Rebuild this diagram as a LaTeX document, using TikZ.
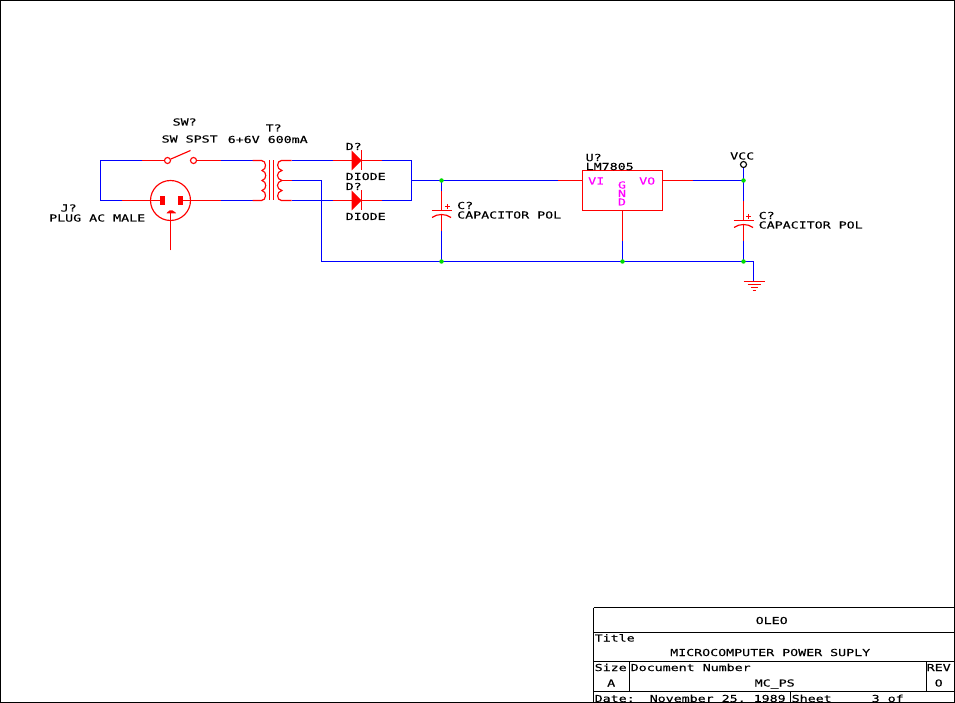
\documentclass[tikz,border=0pt]{standalone}
\usepackage{fontspec}
\newfontfamily\pcb[FakeStretch=1.384,FakeBold=0.15]{DejaVu Sans Mono}
\definecolor{wred}{RGB}{255,0,0}
\definecolor{wblue}{RGB}{0,0,255}
\definecolor{wgreen}{RGB}{0,220,0}
\definecolor{wmag}{RGB}{255,0,255}
\tikzset{
  part/.style={draw=wred,line width=1.15pt},
  wire/.style={draw=wblue,line width=1.15pt},
  frameline/.style={draw=black,line width=1pt},
  lbl/.style={anchor=base west,inner sep=0pt,outer sep=0pt,xshift=-0.8pt,text=black,font=\pcb\fontsize{9.6}{10}\selectfont},
  pinlbl/.style={lbl,text=wmag},
  pinstack/.style={anchor=base,inner sep=0pt,outer sep=0pt,text=wmag,font=\pcb\fontsize{9.6}{10}\selectfont},
  junction/.style={fill=wgreen,draw=none,circle,minimum size=4.5pt,inner sep=0pt},
  pin/.style={draw=wred,fill=white,line width=1.15pt,circle,minimum size=6pt,inner sep=0pt},
  vccpin/.style={pin,draw=black},
  slot/.style={fill=wred,draw=none,minimum width=5pt,minimum height=9pt,inner sep=0pt,outer sep=0pt}
}
\begin{document}
\begin{tikzpicture}[x=1pt,y=-1pt]
\useasboundingbox (0,0) rectangle (955,703);
\clip (0,0) rectangle (955,703);
\fill[white] (0,0) rectangle (955,703);
\draw[frameline] (0.5,0.5) rectangle (954.5,702.5);

\begin{scope}[shift={(0.5,0.5)}]
% points
\coordinate (swLw) at (141,160);
\coordinate (plugLw) at (121,200);
\coordinate (tl) at (100,160);
\coordinate (bl) at (100,200);
\coordinate (priT) at (252,160);
\coordinate (priB) at (252,200);
\coordinate (swRw) at (220,160);
\coordinate (plugRw) at (220,200);
\coordinate (secT) at (291,160);
\coordinate (secM) at (291,180);
\coordinate (secB) at (291,200);
\coordinate (d1a) at (332,160);
\coordinate (d2a) at (332,200);
\coordinate (d1k) at (381,160);
\coordinate (d2k) at (381,200);
\coordinate (dT) at (411,160);
\coordinate (dB) at (411,200);
\coordinate (dM) at (411,180);
\coordinate (tapC) at (321,180);
\coordinate (gndL) at (321,261);
\coordinate (uInW) at (557,180);
\coordinate (uOutW) at (692,180);
\coordinate (uGndW) at (622,241);
\coordinate (c1top) at (441,191);
\coordinate (c1bot) at (441,231);
\coordinate (c2top) at (743,201);
\coordinate (c2bot) at (743,241);
\coordinate (gndCorner) at (753,261);
\coordinate (gndSym) at (753,281);

% mains side
\node[pin] (sw1) at (167,160) {};
\node[pin] (sw2) at (193,160) {};
\coordinate (swTip) at (190,150);
\draw[part] (swLw) -- (sw1);
\draw[part] (sw1) -- (swTip);
\draw[part] (sw2) -- (swRw);
\node[draw=wred,line width=1.15pt,circle,minimum size=40pt,inner sep=0pt] (plug) at (170,200) {};
\node[slot] (slotL) at (161.5,200) {};
\node[slot] (slotR) at (179.5,200) {};
\draw[part] (plugLw) -- (slotL.west);
\draw[part] (slotR.east) -- (plugRw);
\fill[wred] (166,213) -- (166.5,212) -- (169,210) -- (172,210) -- (175,212) -- (175.5,213) -- cycle;
\coordinate (plugG) at (170,250);
\draw[part] (plugG) -- (170,211);
\draw[wire] (swLw) -- (tl) -- (bl) -- (plugLw);
\draw[wire] (swRw) -- (priT);
\draw[wire] (plugRw) -- (priB);

% transformer
\draw[part] (priT) -- (261,160)
  .. controls (266,160) and (266.5,169) .. (261.5,170)
  .. controls (266.5,171) and (266.5,179) .. (261.5,180)
  .. controls (266.5,181) and (266.5,189) .. (261.5,190)
  .. controls (266.5,191) and (266,200) .. (261,200) -- (priB);
\draw[part] (269,160) -- (269,200);
\draw[part] (273,160) -- (273,200);
\draw[part] (secT) -- (281,160)
  .. controls (276,160) and (275.5,169) .. (281.5,170)
  .. controls (275.5,171) and (275.5,179) .. (281.5,180)
  .. controls (275.5,181) and (275.5,189) .. (281.5,190)
  .. controls (275.5,191) and (276,200) .. (281,200) -- (secB);
\draw[part] (281,180) -- (secM);

% diodes
\draw[wire] (secT) -- (d1a);
\draw[wire] (secB) -- (d2a);
\draw[part] (d1a) -- (d1k);
\draw[part] (d2a) -- (d2k);
\fill[wred] (351,150) -- (361,160) -- (351,170) -- cycle;
\fill[wred] (351,190) -- (361,200) -- (351,210) -- cycle;
\draw[part] (361,150) -- (361,170);
\draw[part] (361,190) -- (361,210);
\draw[wire] (d1k) -- (dT) -- (dB) -- (d2k);

% regulator
\node[draw=wred,line width=1.15pt,outer sep=0pt,minimum width=80pt,minimum height=40pt,inner sep=0pt,anchor=north west] (reg) at (582,170) {};
\draw[part] (uInW) -- (reg.west |- uInW);
\draw[part] (reg.east |- uOutW) -- (uOutW);
\draw[part] (reg.south) -- (uGndW);

% capacitors
\draw[part] (c1top) -- (441,210);
\draw[part] (431,210) -- (451,210);
\draw[part] (431.5,217) .. controls (437,213) and (445,213) .. (450.5,217);
\draw[part] (441,214) -- (c1bot);
\draw[part] (444.5,206) -- (449.5,206);
\draw[part] (447,203.5) -- (447,208.5);

\draw[part] (c2top) -- (743,220);
\draw[part] (733,220) -- (753,220);
\draw[part] (733.5,227) .. controls (739,223) and (747,223) .. (752.5,227);
\draw[part] (743,224) -- (c2bot);
\draw[part] (745.5,216) -- (750.5,216);
\draw[part] (748,213.5) -- (748,218.5);

% wires
\node[vccpin] (vcc) at (743,164) {};
\coordinate (jIn) at (441,180);
\coordinate (jOut) at (743,180);
\coordinate (jG1) at (441,261);
\coordinate (jG2) at (622,261);
\coordinate (jG3) at (743,261);
\draw[wire] (secM) -- (tapC) -- (gndL) -- (gndCorner) -- (gndSym);
\draw[wire] (dM) -- (uInW);
\draw[wire] (uOutW) -- (jOut);
\draw[wire] (vcc) -- (c2top);
\draw[wire] (jIn) -- (c1top);
\draw[wire] (c1bot) -- (jG1);
\draw[wire] (c2bot) -- (jG3);
\draw[wire] (uGndW) -- (jG2);
\node[junction] at (jIn) {};
\node[junction] at (jOut) {};
\node[junction] at (jG1) {};
\node[junction] at (jG2) {};
\node[junction] at (jG3) {};

% ground symbol
\draw[part] (743,281) -- (764,281);
\draw[part] (747,284) -- (760,284);
\draw[part] (750,287) -- (757,287);
\draw[part] (752,290) -- (755,290);

% labels
\node[lbl] at (173,125) {SW?};
\node[lbl] at (162,142) {SW SPST};
\node[lbl] at (228,142.5) {6+6V 600mA};
\node[lbl] at (266,131) {T?};
\node[lbl] at (61,211) {J?};
\node[lbl] at (49.5,221) {PLUG AC MALE};
\node[lbl] at (346,149.5) {D?};
\node[lbl] at (346,179.5) {DIODE};
\node[lbl] at (346,189.5) {D?};
\node[lbl] at (346,219.5) {DIODE};
\node[lbl] at (457.5,208.5) {C?};
\node[lbl] at (457.5,218) {CAPACITOR POL};
\node[lbl] at (759,218.5) {C?};
\node[lbl] at (759,228) {CAPACITOR POL};
\node[lbl] at (586,160.5) {U?};
\node[lbl] at (586,169.5) {LM7805};
\node[lbl] at (730.5,159) {VCC};
\node[pinlbl] at (588.5,184) {VI};
\node[pinlbl] at (639.5,184) {VO};
\node[pinstack] at (621.5,188) {G};
\node[pinstack] at (621.5,196.5) {N};
\node[pinstack] at (621.5,205) {D};

\node[lbl] at (756,623.5) {OLEO};
\node[lbl] at (595,641) {Title};
\node[lbl] at (670.5,655.5) {MICROCOMPUTER POWER SUPLY};
\node[lbl] at (595,670.5) {Size};
\node[lbl] at (631,670.5) {Document Number};
\node[lbl] at (927,670.5) {REV};
\node[lbl] at (607.5,686) {A};
\node[lbl] at (755,686) {MC\_PS};
\node[lbl] at (935,686) {O};
\node[lbl] at (595,701.5) {Date:};
\node[lbl] at (650,701.5) {November 25, 1989};
\node[lbl] at (792,701.5) {Sheet};
\node[lbl] at (872,701.5) {3 of};
\end{scope}

% title block
\draw[frameline] (593.5,607.5) -- (954.5,607.5);
\draw[frameline] (593.5,607.5) -- (593.5,702.5);
\draw[frameline] (593.5,632.5) -- (954.5,632.5);
\draw[frameline] (593.5,661.5) -- (954.5,661.5);
\draw[frameline] (593.5,691.5) -- (954.5,691.5);
\draw[frameline] (629.5,661.5) -- (629.5,691.5);
\draw[frameline] (926.5,661.5) -- (926.5,691.5);
\draw[frameline] (790.5,691.5) -- (790.5,702.5);
\end{tikzpicture}
\end{document}
